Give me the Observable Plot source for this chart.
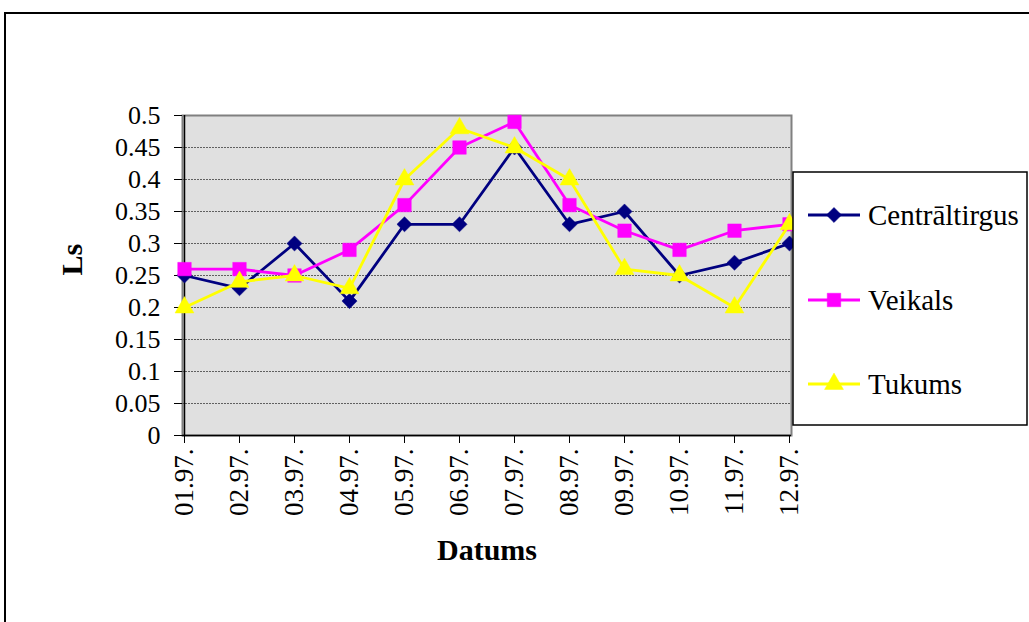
<!DOCTYPE html>
<html>
<head>
<meta charset="utf-8">
<script src="https://cdn.jsdelivr.net/npm/d3@7"></script>
<script src="https://cdn.jsdelivr.net/npm/@observablehq/plot@0.6"></script>
<style>
  html, body { margin: 0; padding: 0; background: #fff; overflow: hidden; }
  #wrap { position: relative; width: 1029px; height: 622px; }
  #frame { position: absolute; left: 4px; top: 12px; width: 1100px; height: 700px;
           border: 2px solid #000; pointer-events: none; box-sizing: border-box; }
  svg text { font-family: "Liberation Serif", "Times New Roman", serif !important; }
</style>
</head>
<body>
<div id="wrap"><div id="chart"></div><div id="frame"></div></div>
<script>
const months = ["01.97.", "02.97.", "03.97.", "04.97.", "05.97.", "06.97.",
                "07.97.", "08.97.", "09.97.", "10.97.", "11.97.", "12.97."];
const centraltirgus = [0.25, 0.23, 0.30, 0.21, 0.33, 0.33, 0.45, 0.33, 0.35, 0.25, 0.27, 0.30];
const veikals       = [0.26, 0.26, 0.25, 0.29, 0.36, 0.45, 0.49, 0.36, 0.32, 0.29, 0.32, 0.33];
const tukums        = [0.20, 0.24, 0.25, 0.23, 0.40, 0.48, 0.45, 0.40, 0.26, 0.25, 0.20, 0.33];
const seriesNames   = ["Centrāltirgus", "Veikals", "Tukums"];
const seriesColors  = ["#000080", "#FF00FF", "#FFFF00"];
const seriesSymbols = ["diamond2", "square", "triangle"];
const seriesR       = [6.8, 7.6, 7];
const yTicks = [0, 0.05, 0.1, 0.15, 0.2, 0.25, 0.3, 0.35, 0.4, 0.45, 0.5];
const xTitle = "Datums";
const yTitle = "Ls";

const FONT = "Liberation Serif";
const seriesValues = [centraltirgus, veikals, tukums];
const series = seriesNames.map((name, i) => ({
  name, color: seriesColors[i], symbol: seriesSymbols[i], r: seriesR[i],
  data: months.map((m, j) => ({month: m, value: seriesValues[i][j], series: name}))
}));

const fmt = d => String(+d.toFixed(2));

const marks = [
  Plot.frame({fill: "#e0e0e0", stroke: "#808080", strokeWidth: 2}),
  Plot.ruleY(yTicks.filter(t => t > 0 && t < 0.5), {stroke: "#606060", strokeWidth: 1, strokeDasharray: "2,1"}),
  Plot.ruleX([months[0]], {stroke: "#000", strokeWidth: 1.5}),
  Plot.ruleY([0], {stroke: "#000", strokeWidth: 1.5}),
  Plot.axisY({ticks: yTicks, tickFormat: fmt, tickSize: 8, tickPadding: 14, label: null, fontSize: 26, fontFamily: FONT}),
  Plot.axisX({tickRotate: -90, tickSize: 8, tickPadding: 5, label: null, fontSize: 27, fontFamily: FONT}),
  Plot.text([yTitle], {frameAnchor: "left", dx: -110, rotate: -90, fontWeight: "bold", fontSize: 30, fontFamily: FONT, fill: "#000"}),
  Plot.text([xTitle], {frameAnchor: "bottom", dy: 124, fontWeight: "bold", fontSize: 30, fontFamily: FONT, fill: "#000"})
];
for (const s of series) {
  marks.push(Plot.line(s.data, {x: "month", y: "value", stroke: s.color, strokeWidth: 2.8}));
  marks.push(Plot.dot(s.data, {x: "month", y: "value", symbol: () => s.symbol, r: s.r, fill: s.color, stroke: s.color, strokeWidth: 0.5}));
}

const svg = Plot.plot({
  width: 1029,
  height: 622,
  marginLeft: 182,
  marginRight: 238,
  marginTop: 115,
  marginBottom: 187,
  style: {fontFamily: FONT, fontSize: "25px", background: "transparent", color: "#000"},
  x: {type: "point", domain: months, padding: 0},
  y: {domain: [0, 0.5]},
  symbol: {type: "identity"},
  marks
});

// Legend (drawn into the same SVG)
const g = d3.select(svg).append("g").attr("text-anchor", "start");
g.append("rect").attr("x", 793).attr("y", 172).attr("width", 234).attr("height", 253)
  .attr("fill", "#fff").attr("stroke", "#000").attr("stroke-width", 1.5);
const symMap = {diamond2: d3.symbolDiamond2, square: d3.symbolSquare, triangle: d3.symbolTriangle};
const rowY = [215, 300, 384];
series.forEach((s, i) => {
  const y = rowY[i];
  g.append("line").attr("x1", 808).attr("x2", 860).attr("y1", y).attr("y2", y)
    .attr("stroke", s.color).attr("stroke-width", 2.8);
  g.append("path").attr("transform", `translate(834,${y})`)
    .attr("d", d3.symbol(symMap[s.symbol], s.r * s.r * Math.PI)())
    .attr("fill", s.color).attr("stroke", s.color).attr("stroke-width", 0.5);
  g.append("text").attr("x", 868).attr("y", y).attr("dy", "0.35em")
    .attr("text-anchor", "start").attr("font-family", FONT)
    .attr("font-size", 29).attr("fill", "#000").text(s.name);
});

document.getElementById("chart").appendChild(svg);
</script>
</body>
</html>
